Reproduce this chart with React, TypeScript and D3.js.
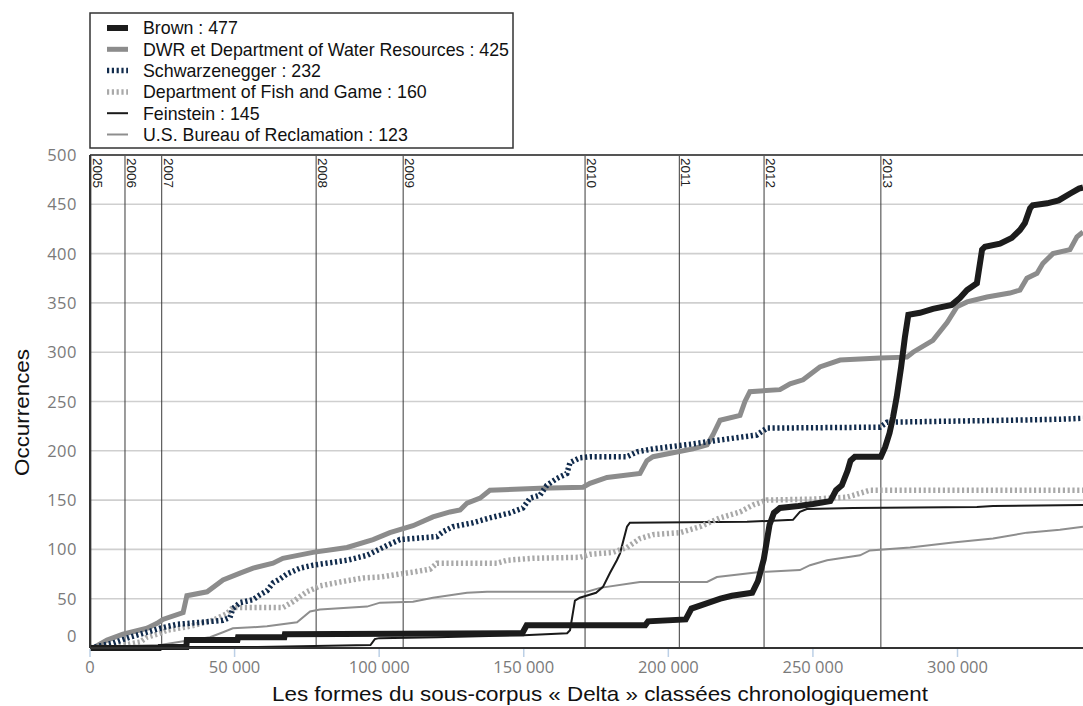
import React from "react";
import * as d3 from "d3";

// ---- data (x in thousands of forms, y = cumulative occurrences) ----
const seriesNames = [
  "Brown : 477",
  "DWR et Department of Water Resources : 425",
  "Schwarzenegger : 232",
  "Department of Fish and Game : 160",
  "Feinstein : 145",
  "U.S. Bureau of Reclamation : 123",
];

const brownData: [number, number][] = [
  [0, 0], [24, 0], [24.2, 1], [33.3, 1], [33.5, 8], [51, 8], [51.2, 11], [67.2, 11], [67.4, 14],
  [149.5, 15], [151, 23], [192, 23], [193, 27], [206, 29], [208, 40], [213, 45], [218, 50],
  [222, 53], [229, 56], [231, 68], [233, 90], [235, 125], [236.5, 137], [238.6, 142], [245, 144],
  [250, 146], [256, 149], [258, 160], [260, 165], [262, 180], [263, 190], [264.5, 194], [273.5, 194],
  [275, 204], [276.5, 218], [277.7, 234], [279, 255], [280.5, 285], [281.8, 315], [283, 338],
  [287, 340], [291.5, 344], [298, 348], [300.8, 355], [303.3, 363], [306.7, 370], [308.5, 404],
  [309.5, 407], [314.7, 410], [318.8, 416], [321.6, 424], [323.3, 431], [325.1, 446], [326, 449],
  [331, 451], [335, 454], [339, 461], [342, 466], [343.4, 467],
];

const dwrData: [number, number][] = [
  [0, 0], [1.7, 1], [5.9, 8], [11.4, 14], [19.7, 20], [23.2, 25], [25.2, 29], [32.2, 36], [33.5, 53],
  [40.5, 57], [46, 69], [51.9, 76], [56.4, 81], [63.3, 86], [66.7, 91], [77.1, 97], [88.9, 102],
  [97.9, 110], [103.7, 117], [111.7, 124], [118.6, 133], [124.5, 138], [128, 140], [130.4, 147],
  [134.9, 152], [138.3, 160], [155.6, 162], [170.5, 163], [172.9, 167], [178.8, 173], [190.2, 177],
  [192.6, 190], [194.7, 194], [201.6, 198], [208.5, 202], [213.4, 206], [215.4, 216], [217.9, 231],
  [224.8, 236], [226.5, 250], [228.2, 260], [238.6, 262], [242.1, 268], [246.6, 272], [252.4, 285],
  [259.4, 292], [273.2, 294], [282.5, 295], [284.6, 300], [291.5, 312], [296.4, 330], [299.8, 346],
  [303.3, 351], [310.2, 356], [318.1, 360], [321.6, 363], [324, 375], [327.5, 380], [329.5, 390],
  [333, 400], [338.9, 404], [341.3, 417], [343.4, 422],
];

const schwarzData: [number, number][] = [
  [0, 0], [1.7, 1], [8, 5], [13.8, 11], [19.7, 16], [24.2, 20], [30.1, 24], [38, 26], [46, 28],
  [48.4, 31], [49.4, 40], [51.9, 46], [56.4, 49], [58.8, 54], [61.2, 58], [63.3, 66], [65.7, 70],
  [68.1, 75], [72.6, 81], [77.1, 84], [88.9, 89], [95.8, 94], [102.7, 104], [107.2, 110], [120, 113],
  [122.1, 118], [125.5, 123], [132.4, 127], [138.3, 132], [145.2, 137], [149.7, 142], [152.2, 152],
  [155.6, 155], [158, 165], [161.5, 172], [164.9, 177], [166, 188], [169.4, 193], [172.9, 194],
  [185.7, 194], [189.2, 199], [194.7, 202], [208.5, 207], [217.9, 211], [230.6, 216], [234.1, 223],
  [273.2, 224], [275.6, 229], [318.1, 231], [335.4, 232], [343.4, 233],
];

const fishGameData: [number, number][] = [
  [0, 0], [5, 1], [12, 3], [17.3, 6], [19.7, 11], [24.2, 15], [26.6, 18], [34.6, 22], [42.5, 28],
  [47.4, 35], [49.4, 41], [66.7, 41], [70.2, 47], [75, 57], [79.5, 63], [86.5, 67], [94.4, 71],
  [100.3, 72], [111.7, 77], [117.6, 80], [120, 86], [140.7, 86], [144.2, 89], [153.2, 91],
  [169.4, 92], [172.9, 95], [180.9, 97], [185.7, 102], [190.2, 111], [194.7, 115], [204, 117],
  [210.9, 123], [217.9, 132], [224.8, 138], [229.3, 145], [234.1, 150], [250, 151], [261.8, 153],
  [266.3, 157], [269.7, 160], [343.4, 160],
];

const feinsteinData: [number, number][] = [
  [0, 0], [2, 1], [58, 1], [97, 3], [98.5, 9], [100, 10], [120, 11], [150, 13], [165, 15],
  [166, 18], [167.7, 48], [169.4, 51], [175, 56], [177.4, 62], [179.8, 76], [182.2, 89],
  [183.3, 96], [185.7, 123], [186.7, 127], [227.2, 128], [243.1, 130], [245.5, 138], [247.9, 141],
  [263.8, 142], [306.7, 143], [312.3, 144], [343.4, 145],
];

const usbrData: [number, number][] = [
  [0, 0], [2, 1], [24.2, 3], [35, 8], [41.5, 11], [46, 16], [49.4, 20], [56, 21], [61.2, 22],
  [71.6, 26], [76.1, 37], [79.5, 39], [95.8, 42], [100.3, 46], [111.7, 47], [118.6, 51],
  [130.4, 56], [137.3, 57], [171.9, 57], [176.4, 61], [187.8, 66], [190.2, 67], [213.4, 67],
  [216.8, 72], [231.7, 77], [245.5, 79], [249, 84], [254.9, 89], [266.3, 94], [269.7, 99],
  [283.6, 102], [298.4, 107], [312.3, 111], [324, 117], [335.4, 120], [343.4, 123],
];

const yTicks = [0, 50, 100, 150, 200, 250, 300, 350, 400, 450, 500];
const xTicks = [0, 50000, 100000, 150000, 200000, 250000, 300000];
const yearLabels = ["2005", "2006", "2007", "2008", "2009", "2010", "2011", "2012", "2013"];
const yearStarts = [0.3, 12.1, 24.8, 78.2, 108.3, 171.2, 203.8, 233.1, 273.5];

// ---- styles ----
const styles = [
  { color: "#1c1c1c", width: 6, dash: "" },
  { color: "#8c8c8c", width: 5, dash: "" },
  { color: "#112b4c", width: 5.5, dash: "2.2 2.6" },
  { color: "#a9a9a9", width: 5.5, dash: "2.2 2.6" },
  { color: "#1a1a1a", width: 2, dash: "" },
  { color: "#8e8e8e", width: 2, dash: "" },
];
const allData = [brownData, dwrData, schwarzData, fishGameData, feinsteinData, usbrData];
const drawOrder = [5, 4, 3, 1, 2, 0];

const W = 1083;
const H = 706;
const left = 90;
const right = 1083;
const top = 155;
const bottom = 648;
const sans = "'Liberation Sans', Arial, sans-serif";
const tickFont = "'Open Sans', 'Noto Sans', sans-serif";

export default function App() {
  const x = d3.scaleLinear().domain([0, 343400]).range([left, right]);
  const y = d3.scaleLinear().domain([0, 500]).range([bottom, top]);
  const line = d3
    .line<[number, number]>()
    .x((d) => x(d[0] * 1000))
    .y((d) => y(d[1]))
    .curve(d3.curveLinear);
  const fmt = (v: number) => d3.format(",")(v).replace(/,/g, " ");

  const legendX = 90;
  const legendY = 13;
  const rowH = 21.3;

  return (
    <svg
      width={W}
      height={H}
      style={{ position: "absolute", left: 0, top: 0, background: "#fff" }}
    >
      <defs>
        <clipPath id="plot">
          <rect x={left} y={top - 3} width={right - left} height={bottom - top + 6} />
        </clipPath>
      </defs>
      {/* gridlines */}
      {yTicks.map((t) => (
        <line key={"g" + t} x1={left} x2={right} y1={y(t)} y2={y(t)} stroke="#cfcfcf" strokeWidth={1.6} />
      ))}
      {/* year lines */}
      {yearStarts.map((s, i) => (
        <g key={"yr" + i}>
          <line x1={x(s * 1000)} x2={x(s * 1000)} y1={top} y2={bottom} stroke="#3a3a3a" strokeWidth={1} />
          <text
            transform={`translate(${x(s * 1000) + 2},${top + 3}) rotate(90)`}
            fontFamily={sans}
            fontSize={13.5}
            fill="#222"
          >
            {yearLabels[i]}
          </text>
        </g>
      ))}
      {/* series */}
      <g clipPath="url(#plot)">
        {drawOrder.map((i) => (
          <path
            key={"s" + i}
            d={line(allData[i]) || ""}
            fill="none"
            stroke={styles[i].color}
            strokeWidth={styles[i].width}
            strokeDasharray={styles[i].dash || undefined}
          />
        ))}
      </g>
      {/* frame */}
      <line x1={left} x2={right} y1={top} y2={top} stroke="#555" strokeWidth={2} />
      <line x1={left} x2={left} y1={top} y2={bottom} stroke="#333" strokeWidth={2} />
      <line x1={left} x2={right} y1={bottom} y2={bottom} stroke="#333" strokeWidth={2} />
      {/* y ticks */}
      {yTicks.map((t) => (
        <text
          key={"yt" + t}
          x={77}
          y={y(t) + (t === 0 ? -6 : 6)}
          textAnchor="end"
          fontFamily={tickFont}
          fontSize={16.5}
          letterSpacing={0.5}
          fill="#7a7a7a"
        >
          {t}
        </text>
      ))}
      {/* x ticks */}
      {xTicks.map((t) => (
        <g key={"xt" + t}>
          <line x1={x(t)} x2={x(t)} y1={bottom + 1} y2={bottom + 9} stroke="#bcd0e6" strokeWidth={1.5} />
          <text
            x={x(t)}
            y={673}
            textAnchor="middle"
            fontFamily={tickFont}
            fontSize={16.5}
            fill="#7a7a7a"
          >
            {fmt(t)}
          </text>
        </g>
      ))}
      {/* axis titles */}
      <text
        x={600}
        y={701}
        textAnchor="middle"
        fontFamily={sans}
        fontSize={21}
        textLength={656}
        lengthAdjust="spacingAndGlyphs"
        fill="#111"
      >
        Les formes du sous-corpus « Delta » classées chronologiquement
      </text>
      <text
        transform={`translate(29,412.5) rotate(-90)`}
        textAnchor="middle"
        fontFamily={sans}
        fontSize={21}
        textLength={127}
        lengthAdjust="spacingAndGlyphs"
        fill="#111"
      >
        Occurrences
      </text>
      {/* legend */}
      <rect x={legendX} y={legendY} width={423} height={135} fill="#fff" stroke="#333" strokeWidth={1.5} />
      {seriesNames.map((name, i) => {
        const cy = legendY + 15 + i * rowH;
        return (
          <g key={"lg" + i}>
            <line
              x1={107}
              x2={128}
              y1={cy}
              y2={cy}
              stroke={styles[i].color}
              strokeWidth={styles[i].width}
              strokeDasharray={styles[i].dash || undefined}
            />
            <text x={143} y={cy + 6.3} fontFamily={sans} fontSize={17.8} fill="#111">
              {name}
            </text>
          </g>
        );
      })}
    </svg>
  );
}
